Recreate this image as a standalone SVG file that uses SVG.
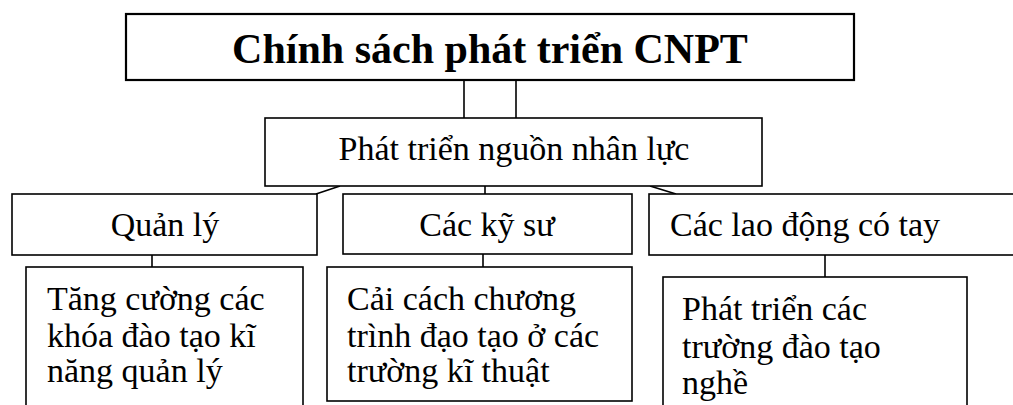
<svg xmlns="http://www.w3.org/2000/svg" width="1013" height="405" viewBox="0 0 1013 405">
<style>
.box{fill:#fff;stroke:#000;stroke-width:1.6}
.top{fill:#fff;stroke:#000;stroke-width:2.2}
.c{fill:none;stroke:#000;stroke-width:1.6}
text{font-family:"Liberation Serif","Times New Roman",serif;fill:#000;font-size:34px}
.t{font-size:42px;font-weight:bold}
</style>
<rect width="1013" height="405" fill="#fff"/>
<g id="connectors">
<line class="c" x1="464" y1="80" x2="464" y2="118"/>
<line class="c" x1="516" y1="80" x2="516" y2="118"/>
<line class="c" x1="340" y1="186" x2="316" y2="194"/>
<line class="c" x1="485" y1="186" x2="485" y2="194"/>
<line class="c" x1="650" y1="186" x2="676" y2="194"/>
<line class="c" x1="152" y1="255" x2="152" y2="267"/>
<line class="c" x1="483" y1="254" x2="483" y2="267"/>
<line class="c" x1="825" y1="255" x2="825" y2="277"/>
</g>
<g id="n-title">
<rect class="top" x="126" y="14" width="728" height="66"/>
<text class="t" x="490" y="63" text-anchor="middle">Chính sách phát triển CNPT</text>
</g>
<g id="n-nhanluc">
<rect class="box" x="265" y="118" width="497" height="68"/>
<text x="514" y="160" text-anchor="middle">Phát triển nguồn nhân lực</text>
</g>
<g id="n-quanly">
<rect class="box" x="12" y="194" width="305" height="61"/>
<text x="165" y="236" text-anchor="middle">Quản lý</text>
</g>
<g id="n-kysu">
<rect class="box" x="343" y="194" width="289" height="60"/>
<text x="487" y="236" text-anchor="middle">Các kỹ sư</text>
</g>
<g id="n-laodong">
<rect class="box" x="649" y="194" width="370" height="61"/>
<text x="670" y="236">Các lao động có tay</text>
</g>
<g id="n-tangcuong">
<rect class="box" x="26" y="267" width="277" height="150"/>
<text x="47" y="310">Tăng cường các</text>
<text x="47" y="347">khóa đào tạo kĩ</text>
<text x="47" y="382">năng quản lý</text>
</g>
<g id="n-caicach">
<rect class="box" x="327" y="267" width="305" height="134"/>
<text x="347" y="310">Cải cách chương</text>
<text x="347" y="347">trình đạo tạo ở các</text>
<text x="347" y="382">trường kĩ thuật</text>
</g>
<g id="n-phattrien">
<rect class="box" x="663" y="277" width="304" height="140"/>
<text x="682" y="320">Phát triển các</text>
<text x="682" y="358">trường đào tạo</text>
<text x="682" y="394">nghề</text>
</g>
</svg>
